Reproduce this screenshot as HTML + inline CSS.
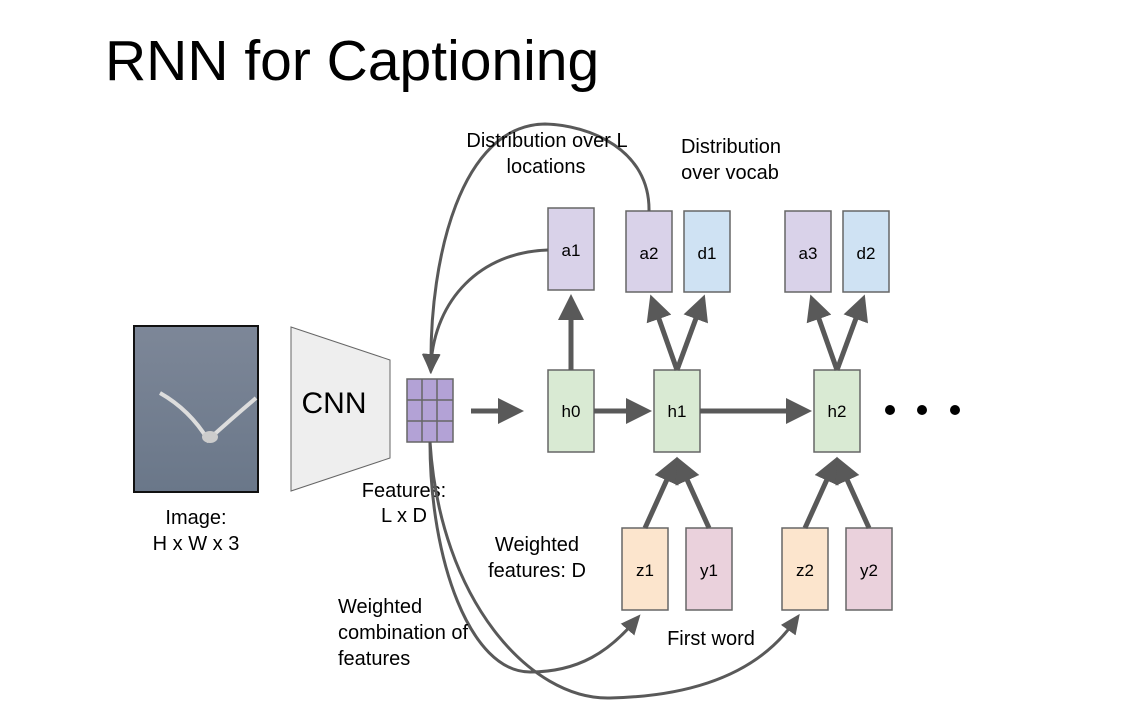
<!DOCTYPE html>
<html><head><meta charset="utf-8"><style>
body{margin:0;background:#fff;}
svg text{font-family:"Liberation Sans",sans-serif;fill:#000;}
</style></head><body>
<svg width="1130" height="710" viewBox="0 0 1130 710" xmlns="http://www.w3.org/2000/svg">
<defs>
<marker id="ah" markerWidth="22" markerHeight="22" refX="10" refY="9" orient="auto" markerUnits="userSpaceOnUse"><path d="M0,0 L20,9 L0,18 z" fill="#595959"/></marker>
<marker id="big" markerWidth="30" markerHeight="30" refX="18" refY="13" orient="auto" markerUnits="userSpaceOnUse"><path d="M0,0 L26,13 L0,26 z" fill="#595959"/></marker>
<linearGradient id="wg" x1="0" y1="0" x2="0" y2="1"><stop offset="0" stop-color="#7d8798"/><stop offset="1" stop-color="#6a7789"/></linearGradient>
</defs>
<text x="105" y="80" font-size="57">RNN for Captioning</text>
<!-- image -->
<rect x="134" y="326" width="124" height="166" fill="url(#wg)" stroke="#111" stroke-width="2"/>
<path d="M160,393 Q190,410 208,440 Q230,420 256,398" stroke="#ddd" stroke-width="4" fill="none"/>
<ellipse cx="210" cy="437" rx="8" ry="6" fill="#ccc"/>
<text x="196" y="524" font-size="20" text-anchor="middle">Image:</text>
<text x="196" y="550" font-size="20" text-anchor="middle">H x W x 3</text>
<!-- CNN -->
<polygon points="291,327 390,360 390,458 291,491" fill="#eeeeee" stroke="#666" stroke-width="1"/>
<text x="334" y="413" font-size="30" text-anchor="middle">CNN</text>
<!-- grid -->
<rect x="407" y="379" width="46" height="63" fill="#b3a2d6" stroke="#666" stroke-width="1.5"/>
<path d="M422,379V442M437,379V442M407,400H453M407,421H453" stroke="#666" stroke-width="1.5"/>
<text x="404" y="497" font-size="20" text-anchor="middle">Features:</text>
<text x="404" y="522" font-size="20" text-anchor="middle">L x D</text>
<!-- boxes -->
<g stroke="#666" stroke-width="1.5">
<rect x="548" y="208" width="46" height="82" fill="#d9d2e9"/>
<rect x="626" y="211" width="46" height="81" fill="#d9d2e9"/>
<rect x="684" y="211" width="46" height="81" fill="#cfe2f3"/>
<rect x="785" y="211" width="46" height="81" fill="#d9d2e9"/>
<rect x="843" y="211" width="46" height="81" fill="#cfe2f3"/>
<rect x="548" y="370" width="46" height="82" fill="#d9ead3"/>
<rect x="654" y="370" width="46" height="82" fill="#d9ead3"/>
<rect x="814" y="370" width="46" height="82" fill="#d9ead3"/>
<rect x="622" y="528" width="46" height="82" fill="#fce5cd"/>
<rect x="686" y="528" width="46" height="82" fill="#ead1dc"/>
<rect x="782" y="528" width="46" height="82" fill="#fce5cd"/>
<rect x="846" y="528" width="46" height="82" fill="#ead1dc"/>
</g>
<g font-size="17" text-anchor="middle">
<text x="571" y="256">a1</text><text x="649" y="259">a2</text><text x="707" y="259">d1</text>
<text x="808" y="259">a3</text><text x="866" y="259">d2</text>
<text x="571" y="417">h0</text><text x="677" y="417">h1</text><text x="837" y="417">h2</text>
<text x="645" y="576">z1</text><text x="709" y="576">y1</text><text x="805" y="576">z2</text><text x="869" y="576">y2</text>
</g>
<!-- thick arrows -->
<g stroke="#595959" stroke-width="5" fill="none">
<line x1="471" y1="411" x2="516" y2="411" marker-end="url(#big)"/>
<line x1="594" y1="411" x2="644" y2="411" marker-end="url(#big)"/>
<line x1="700" y1="411" x2="804" y2="411" marker-end="url(#big)"/>
<line x1="571" y1="370" x2="571" y2="302" marker-end="url(#big)"/>
<line x1="677" y1="370" x2="653" y2="302" marker-end="url(#big)"/>
<line x1="677" y1="370" x2="702" y2="302" marker-end="url(#big)"/>
<line x1="837" y1="370" x2="813" y2="302" marker-end="url(#big)"/>
<line x1="837" y1="370" x2="862" y2="302" marker-end="url(#big)"/>
<line x1="645" y1="528" x2="674" y2="464" marker-end="url(#big)"/>
<line x1="709" y1="528" x2="680" y2="464" marker-end="url(#big)"/>
<line x1="805" y1="528" x2="834" y2="464" marker-end="url(#big)"/>
<line x1="869" y1="528" x2="840" y2="464" marker-end="url(#big)"/>
</g>
<circle cx="890" cy="410" r="5" fill="#000"/><circle cx="922" cy="410" r="5" fill="#000"/><circle cx="955" cy="410" r="5" fill="#000"/>
<!-- curves -->
<g stroke="#595959" stroke-width="3" fill="none">
<path d="M548,250 C480,252 435,300 431,364" marker-end="url(#ah)"/>
<path d="M649,211 C650,150 590,125 545,124 C460,125 430,260 431,364" marker-end="url(#ah)"/>
<path d="M430,442 C430,560 470,672 530,672 C580,672 610,650 634,622" marker-end="url(#ah)"/>
<path d="M430,442 C440,600 530,700 610,698 C700,696 760,670 794,622" marker-end="url(#ah)"/>
</g>
<!-- labels -->
<g font-size="20" text-anchor="middle">
<text x="547" y="147">Distribution over L</text>
<text x="546" y="173">locations</text>
<text x="731" y="153">Distribution</text>
<text x="730" y="179">over vocab</text>
<text x="537" y="551">Weighted</text>
<text x="537" y="577">features: D</text>
<text x="711" y="645">First word</text>
</g>
<g font-size="20">
<text x="338" y="613">Weighted</text>
<text x="338" y="639">combination of</text>
<text x="338" y="665">features</text>
</g>
</svg>
</body></html>
